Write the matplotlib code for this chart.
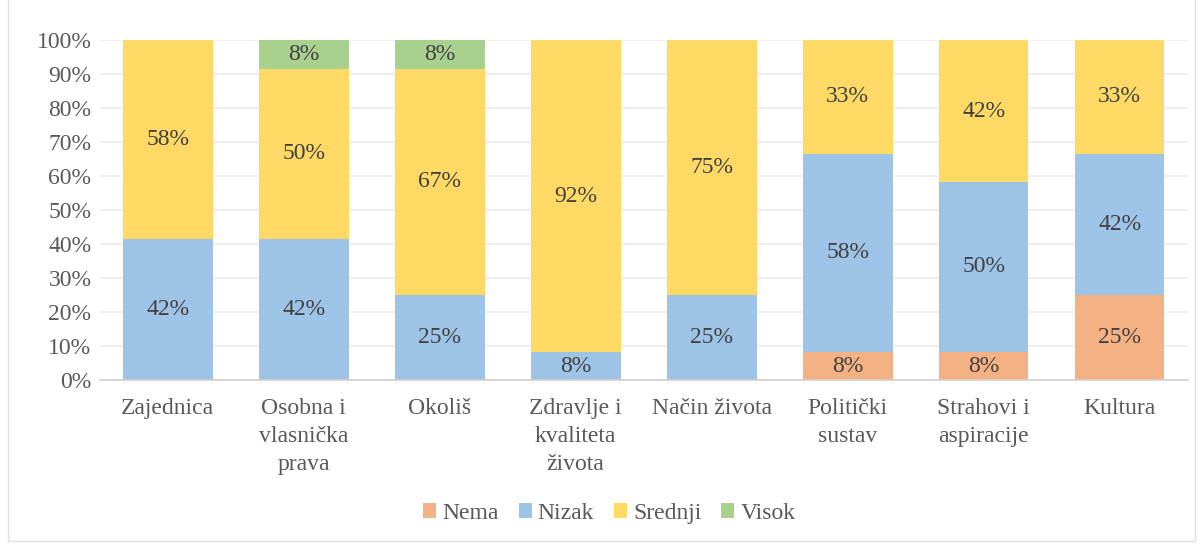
import numpy as np
import matplotlib.pyplot as plt
from matplotlib.patches import Rectangle

plt.rcParams['font.family'] = ['Liberation Serif', 'DejaVu Serif']

categories = ['Zajednica', 'Osobna i\nvlasnička\nprava', 'Okoliš', 'Zdravlje i\nkvaliteta\nživota',
              'Način života', 'Politički\nsustav', 'Strahovi i\naspiracije', 'Kultura']
nema = np.array([0, 0, 0, 0, 0, 8.33, 8.33, 25.0])
nizak = np.array([41.67, 41.67, 25.0, 8.33, 25.0, 58.33, 50.0, 41.67])
srednji = np.array([58.33, 50.0, 66.67, 91.67, 75.0, 33.33, 41.67, 33.33])
visok = np.array([0, 8.33, 8.33, 0, 0, 0, 0, 0])

series = [('Nema', nema, '#F4B183'), ('Nizak', nizak, '#9DC3E6'),
          ('Srednji', srednji, '#FFD966'), ('Visok', visok, '#A9D18E')]

fig = plt.figure(figsize=(12.02, 5.44), dpi=100)
ax = fig.add_axes([0.083, 0.301, 0.905, 0.625])
fig.patches.append(Rectangle((0.007, 0.006), 0.987, 1.2, transform=fig.transFigure,
                             fill=False, edgecolor='#E0E0E0', linewidth=1))

fs = 17
x = np.arange(len(categories))
bottom = np.zeros(len(categories))
txt = '#404040'
for name, vals, color in series:
    bars = ax.bar(x, vals, 0.66, bottom=bottom, color=color, label=name, zorder=2)
    for b, v, y0 in zip(bars, vals, bottom):
        if v > 0:
            ax.text(b.get_x() + b.get_width() / 2, y0 + v / 2, f'{v:.0f}%',
                    ha='center', va='center', fontsize=fs, color=txt, zorder=3)
    bottom += vals

ax.set_ylim(0, 100)
ax.set_xlim(-0.5, len(categories) - 0.5)
ax.set_yticks(np.arange(0, 101, 10))
ax.set_yticklabels([f'{t}%' for t in range(0, 101, 10)])
ax.set_xticks(x)
ax.set_xticklabels(categories, linespacing=1.42, va='top')
ax.tick_params(axis='both', length=0, labelsize=fs, labelcolor='#595959')
ax.tick_params(axis='x', pad=13)
ax.tick_params(axis='y', pad=6)
ax.grid(axis='y', color='#EBEBEB', linewidth=1.2, zorder=0)
for s in ['top', 'right', 'left']:
    ax.spines[s].set_visible(False)
ax.spines['bottom'].set_color('#D0D0D0')
ax.spines['bottom'].set_linewidth(1.2)

ax.legend(loc='center', bbox_to_anchor=(0.507, 0.0565), bbox_transform=fig.transFigure,
          ncol=4, frameon=False, fontsize=fs, labelcolor='#595959',
          handlelength=0.55, handleheight=0.55, handletextpad=0.25, columnspacing=0.85)

fig.savefig('out.png', dpi=100)
